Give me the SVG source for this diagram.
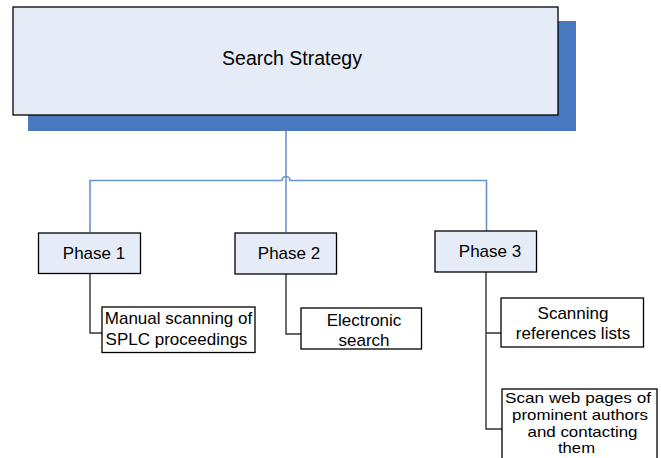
<svg xmlns="http://www.w3.org/2000/svg" width="661" height="458" viewBox="0 0 661 458">
<style>
text{font-family:"Liberation Sans",Arial,sans-serif;fill:#000;text-anchor:middle;font-size:17px}
text.tight{font-size:14.5px}
.phase{fill:#E6ECF7;stroke:#000;stroke-width:1.3}
.leaf{fill:#fff;stroke:#000;stroke-width:1.3}
.blue{fill:none;stroke:#6792D3;stroke-width:1.6}
.dark{fill:none;stroke:#333;stroke-width:1.4}
</style>
<rect width="661" height="458" fill="#fff"/>
<g id="connectors">
<path class="blue" d="M286 115 V232"/>
<path class="blue" d="M90 232 V180.5 H282 A4 4 0 0 1 290 180.5 H486.5 V231"/>
<path class="dark" d="M90 273 V333 H102"/>
<path class="dark" d="M286 274 V334 H301"/>
<path class="dark" d="M486 272 V429 H502 M486 333 H501"/>
</g>
<g id="search-strategy">
<rect x="28" y="21" width="548" height="110" fill="#4878BF"/>
<rect x="13" y="7" width="545" height="108" fill="#E6ECF7" stroke="#000" stroke-width="1.3"/>
<text x="292" y="65" style="font-size:19.5px">Search Strategy</text>
</g>
<g id="phase1">
<rect class="phase" x="38.5" y="233" width="102" height="40.5"/>
<text x="94" y="258.5">Phase 1</text>
</g>
<g id="phase2">
<rect class="phase" x="235" y="233" width="101.5" height="41"/>
<text x="289" y="258.5">Phase 2</text>
</g>
<g id="phase3">
<rect class="phase" x="435" y="231" width="101.5" height="41"/>
<text x="490" y="256.5">Phase 3</text>
</g>
<g id="manual-scanning">
<rect class="leaf" x="102" y="307" width="153" height="45.5"/>
<text x="178.5" y="323.5">Manual scanning of</text>
<text x="176.5" y="344.5">SPLC proceedings</text>
</g>
<g id="electronic-search">
<rect class="leaf" x="301" y="308" width="120.5" height="41"/>
<text x="364" y="325.5">Electronic</text>
<text x="364" y="345.5">search</text>
</g>
<g id="scanning-references">
<rect class="leaf" x="501" y="298" width="142.5" height="49"/>
<text x="573" y="318.5">Scanning</text>
<text x="573" y="338.5">references lists</text>
</g>
<g id="scan-web-pages">
<rect class="leaf" x="502" y="389" width="155" height="75"/>
<text class="tight" x="578" y="403" textLength="146" lengthAdjust="spacingAndGlyphs">Scan web pages of</text>
<text class="tight" x="580" y="420" textLength="136" lengthAdjust="spacingAndGlyphs">prominent authors</text>
<text class="tight" x="582.5" y="436.5" textLength="110" lengthAdjust="spacingAndGlyphs">and contacting</text>
<text class="tight" x="576.5" y="453" textLength="37" lengthAdjust="spacingAndGlyphs">them</text>
</g>
</svg>
